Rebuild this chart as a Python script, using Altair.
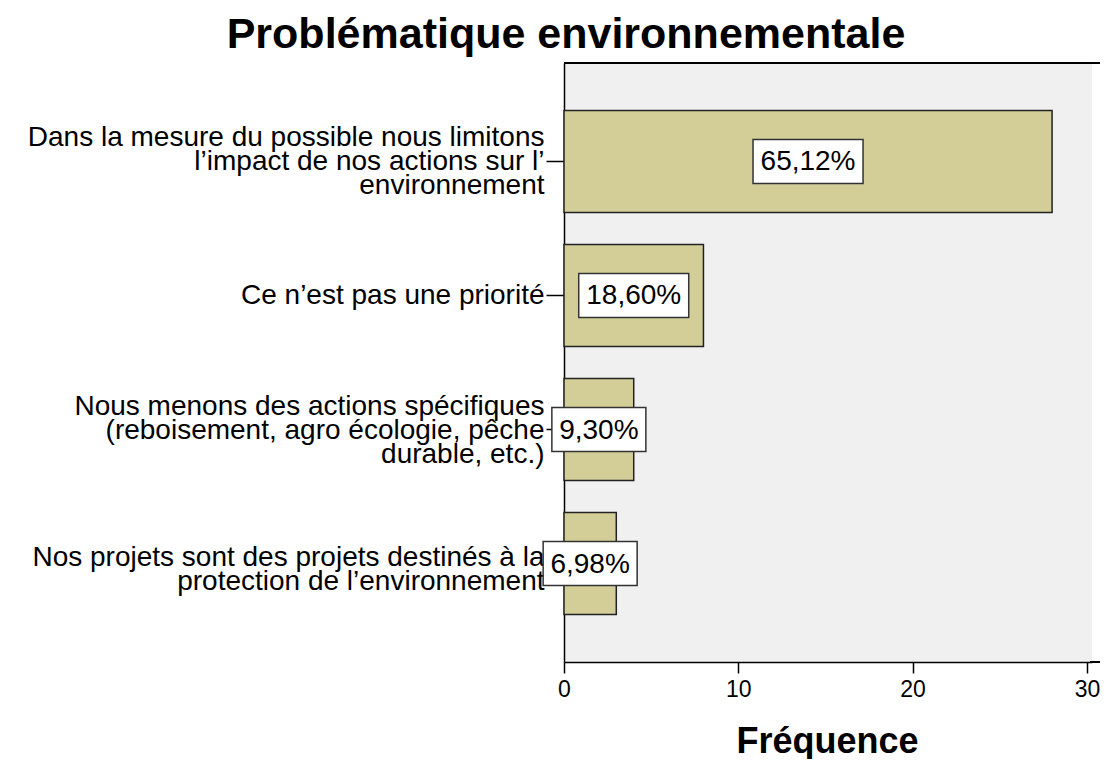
import altair as alt
import pandas as pd

categories = [
    "Dans la mesure du possible nous limitons|l’impact de nos actions sur l’|environnement",
    "Ce n’est pas une priorité",
    "Nous menons des actions spécifiques|(reboisement, agro écologie, pêche|durable, etc.)",
    "Nos projets sont des projets destinés à la|protection de l’environnement",
]
frequencies = [28, 8, 4, 3]
percent_labels = ["65,12%", "18,60%", "9,30%", "6,98%"]

df = pd.DataFrame({"cat": categories, "freq": frequencies, "pct": percent_labels})

FONT = "Liberation Sans"
BAR_FILL = "#D3CE98"
W, H = 528, 599
xscale = alt.Scale(domain=[0, 30.29], nice=False, zero=True)
yscale = alt.Scale(domain=categories, paddingInner=0.24, paddingOuter=0.355)

xaxis = alt.Axis(values=[0, 10, 20, 30], tickSize=11, tickWidth=1.5,
                 tickColor="black", domainColor="black", domainWidth=1.5,
                 labelFontSize=23, labelColor="black", labelPadding=5,
                 labelFont=FONT, labelFlush=False, grid=False, title="Fréquence",
                 titleFont=FONT, titleFontSize=36, titleFontWeight="bold",
                 titleColor="black", titlePadding=23, titleX=263)
yaxis = alt.Axis(title=None, labelExpr="split(datum.label, '|')",
                 labelFontSize=28, labelFont=FONT, labelColor="black",
                 labelLineHeight=24, labelLimit=0, labelPadding=2,
                 labelOffset={"condition": [
                     {"test": "length(split(datum.value, '|')) == 3", "value": -23},
                     {"test": "length(split(datum.value, '|')) == 2", "value": -6},
                 ], "value": 1},
                 tickSize=18, tickWidth=1.5, tickColor="black",
                 domainColor="black", domainWidth=1.5, grid=False)

bars = alt.Chart(df).mark_bar(
    fill=BAR_FILL, stroke="#222222", strokeWidth=1.5
).encode(
    x=alt.X("freq:Q", scale=xscale, axis=xaxis),
    y=alt.Y("cat:N", scale=yscale, sort=categories, axis=yaxis),
)

base = alt.Chart(df).transform_calculate(mid="datum.freq / 2")

box_wide = base.transform_filter("length(datum.pct) >= 6").mark_bar(
    fill="white", stroke="#333333", strokeWidth=1.5, size=44, xOffset=-55, x2Offset=55
).encode(
    x=alt.X("mid:Q", scale=xscale),
    x2="mid:Q",
    y=alt.Y("cat:N", scale=yscale, sort=categories),
)

box_narrow = base.transform_filter("length(datum.pct) < 6").mark_bar(
    fill="white", stroke="#333333", strokeWidth=1.5, size=44, xOffset=-47, x2Offset=47
).encode(
    x=alt.X("mid:Q", scale=xscale),
    x2="mid:Q",
    y=alt.Y("cat:N", scale=yscale, sort=categories),
)

texts = base.mark_text(
    font=FONT, fontSize=28, color="black", align="center", baseline="middle", dy=1
).encode(
    x=alt.X("mid:Q", scale=xscale),
    y=alt.Y("cat:N", scale=yscale, sort=categories),
    text="pct:N",
)

top_border = alt.Chart(df).mark_rule(color="black", strokeWidth=1.5).encode(
    x=alt.value(0), x2=alt.value(W + 8), y=alt.value(0)
)
bottom_extend = alt.Chart(df).mark_rule(color="black", strokeWidth=1.5).encode(
    x=alt.value(W - 2), x2=alt.value(W + 8), y=alt.value(H)
)

chart = alt.layer(bars, box_wide, box_narrow, texts, top_border, bottom_extend).properties(
    width=W,
    height=H,
    autosize=alt.AutoSizeParams(type="none"),
    padding={"left": 556, "top": 55, "right": 8, "bottom": 97},
    background="white",
    title=alt.TitleParams("Problématique environnementale", font=FONT, fontSize=43,
                          fontWeight="bold", color="black", anchor="middle",
                          dx=-262, offset=5),
).configure_view(
    stroke=None, fill="#F0F0F0"
)

chart.save("out.html", embed_options={"renderer": "svg", "actions": False})
